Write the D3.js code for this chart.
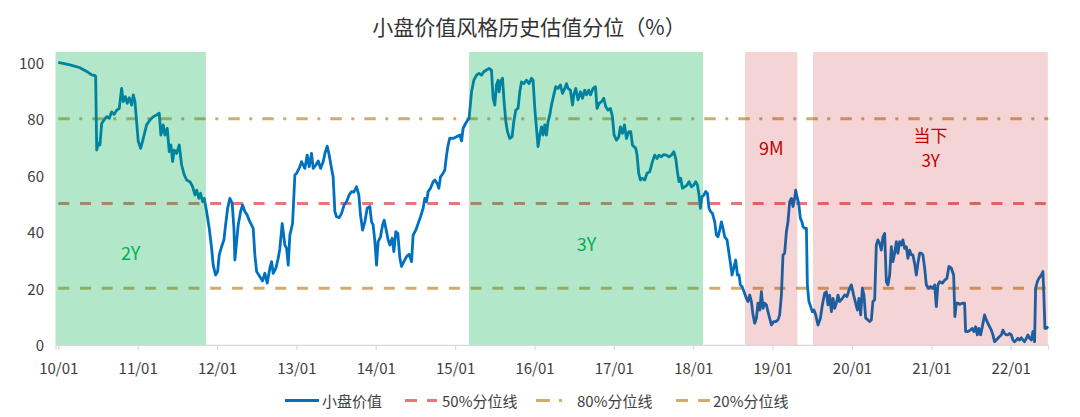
<!DOCTYPE html>
<html><head><meta charset="utf-8">
<script src="https://cdn.jsdelivr.net/npm/d3@7"></script>
<style>
body{margin:0;background:#fff;}
svg{display:block;font-family:"Noto Sans CJK SC","Noto Sans",sans-serif;}
</style>
</head><body><svg id="c" width="1080" height="417"></svg>
<script>
const chartTitle = "小盘价值风格历史估值分位（%）";
const seriesName = "小盘价值";
// [years since Jan 2010, valuation percentile %]
const smallValueSeries = [
[0.000,99.9],[0.147,99.0],[0.273,98.0],[0.358,96.7],[0.421,95.5],[0.462,95.2],[0.471,95.0],[0.484,68.9],[0.504,71.3],[0.525,70.7],[0.547,78.3],[0.576,79.5],[0.610,80.7],[0.642,80.1],[0.673,82.4],[0.702,81.5],[0.736,83.0],[0.768,83.6],[0.798,90.7],[0.819,86.0],[0.844,87.8],[0.869,85.4],[0.894,87.4],[0.924,84.8],[0.945,88.4],[0.966,86.0],[0.987,78.9],[1.008,71.9],[1.038,69.5],[1.071,73.0],[1.113,77.8],[1.155,79.5],[1.196,80.7],[1.239,81.3],[1.272,81.9],[1.293,74.2],[1.322,77.8],[1.344,74.2],[1.373,76.6],[1.398,68.3],[1.419,70.7],[1.441,64.8],[1.461,68.9],[1.491,67.7],[1.524,70.7],[1.554,63.6],[1.587,60.1],[1.617,58.3],[1.659,57.7],[1.693,55.9],[1.722,53.0],[1.743,54.7],[1.772,51.8],[1.793,53.6],[1.819,50.6],[1.839,51.8],[1.869,47.1],[1.902,41.2],[1.932,34.1],[1.952,28.2],[1.982,24.7],[2.008,25.9],[2.028,31.8],[2.058,34.7],[2.087,37.1],[2.108,42.4],[2.134,48.3],[2.162,51.8],[2.191,50.0],[2.213,41.2],[2.225,30.0],[2.247,36.5],[2.267,42.4],[2.297,47.1],[2.322,49.5],[2.351,47.1],[2.380,45.9],[2.406,44.0],
[2.456,41.2],[2.477,31.8],[2.499,25.9],[2.540,24.1],[2.574,22.6],[2.603,25.3],[2.632,21.8],[2.666,27.1],[2.688,29.4],[2.708,25.3],[2.742,27.1],[2.771,30.6],[2.792,34.1],[2.821,42.9],[2.855,35.3],[2.877,34.1],[2.897,28.2],[2.918,38.8],[2.952,42.9],[2.981,60.1],[3.003,60.7],[3.023,61.8],[3.044,63.0],[3.065,64.8],[3.086,63.6],[3.107,62.4],[3.136,67.1],[3.161,63.0],[3.191,67.7],[3.212,62.4],[3.246,63.6],[3.275,65.0],[3.305,62.4],[3.338,64.8],[3.359,67.7],[3.388,70.3],[3.413,67.1],[3.443,62.4],[3.463,59.4],[3.485,47.1],[3.506,45.3],[3.539,45.0],[3.569,46.5],[3.602,49.5],[3.632,50.6],[3.665,53.0],[3.695,54.2],[3.724,54.0],[3.758,55.9],[3.787,53.0],[3.808,45.9],[3.834,40.6],[3.863,43.5],[3.892,48.3],[3.926,48.9],[3.947,43.5],[3.967,42.4],[3.989,36.5],[4.010,28.2],[4.030,36.5],[4.060,38.2],[4.086,42.4],[4.106,44.1],[4.136,40.0],[4.156,37.1],[4.178,35.3],[4.207,37.7],[4.228,33.0],[4.253,40.0],[4.278,39.4],[4.304,30.6],[4.325,27.7],[4.354,29.4],[4.388,31.2],[4.421,32.0],[4.451,29.4],[4.471,38.8],[4.505,40.6],[4.534,42.9],[4.564,45.3],[4.597,48.3],[4.618,51.8],[4.640,50.6],[4.660,54.2],[4.690,55.4],[4.723,57.7],[4.744,58.3],[4.773,57.1],[4.795,55.4],[4.816,59.4],[4.849,60.7],[4.870,61.8],[4.892,67.1],[4.912,70.7],[4.933,73.1],
[4.975,73.0],[5.018,73.6],[5.059,74.2],[5.081,72.1],[5.101,76.6],[5.144,78.9],[5.176,80.1],[5.207,89.5],[5.236,93.6],[5.270,95.4],[5.302,96.0],[5.332,95.4],[5.361,96.6],[5.395,97.2],[5.428,97.8],[5.458,97.2],[5.479,87.2],[5.500,84.8],[5.521,91.9],[5.542,93.6],[5.554,89.5],[5.572,93.0],[5.597,94.3],[5.617,86.0],[5.639,78.9],[5.660,75.4],[5.689,73.0],[5.718,73.6],[5.739,78.9],[5.764,83.0],[5.793,83.6],[5.815,89.5],[5.836,93.0],[5.865,92.4],[5.899,93.6],[5.932,92.4],[5.962,94.3],[5.982,93.6],[6.004,83.6],[6.025,76.6],[6.045,70.1],[6.067,74.2],[6.088,77.1],[6.108,74.2],[6.130,77.8],[6.151,74.2],[6.171,78.9],[6.193,81.3],[6.214,84.8],[6.243,88.4],[6.268,91.3],[6.297,90.7],[6.327,91.9],[6.353,88.9],[6.382,90.7],[6.403,92.4],[6.423,90.7],[6.453,90.1],[6.479,84.8],[6.495,88.4],[6.520,90.7],[6.549,86.6],[6.579,89.5],[6.605,87.2],[6.633,90.1],[6.655,88.4],[6.684,90.1],[6.705,88.4],[6.738,90.7],[6.768,91.3],[6.788,83.6],[6.814,85.4],[6.844,86.0],[6.873,87.2],[6.898,84.2],[6.927,83.0],[6.957,83.6],[6.982,80.7],[7.003,74.2],[7.033,72.4],[7.062,73.6],[7.083,77.1],[7.108,74.8],[7.134,77.8],[7.159,73.0],[7.188,75.4],[7.213,75.4],[7.234,70.7],[7.254,70.1],[7.276,69.5],[7.292,67.1],[7.313,60.7],[7.335,58.3],[7.360,58.9],[7.389,58.3],[7.418,60.7],[7.452,61.2],
[7.486,64.8],[7.515,67.1],[7.544,65.9],[7.569,67.1],[7.599,66.5],[7.628,67.3],[7.662,67.1],[7.695,66.5],[7.725,67.1],[7.754,68.3],[7.780,65.9],[7.801,61.2],[7.821,57.7],[7.843,58.9],[7.864,55.4],[7.893,55.9],[7.922,56.5],[7.947,57.7],[7.977,55.9],[8.006,56.5],[8.031,57.7],[8.053,56.5],[8.073,53.0],[8.091,48.3],[8.111,52.4],[8.136,53.0],[8.157,54.2],[8.179,53.6],[8.199,48.3],[8.220,47.1],[8.242,46.5],[8.271,43.5],[8.292,38.8],[8.312,38.2],[8.334,40.6],[8.355,43.5],[8.375,41.2],[8.397,38.2],[8.426,37.1],[8.447,33.0],[8.469,28.8],[8.489,24.7],[8.510,27.1],[8.535,30.0],[8.557,24.7],[8.577,24.7],[8.594,21.2],[8.615,20.6],[8.640,18.8],[8.670,16.4],[8.690,15.3],[8.712,17.6],[8.733,15.3],[8.753,10.6],[8.775,7.6],[8.796,9.4],[8.816,14.7],[8.838,12.3],[8.859,18.8],[8.879,12.9],[8.901,14.7],[8.922,14.1],[8.942,11.7],[8.963,9.4],[8.985,7.0],[9.014,8.2],[9.039,8.2],[9.068,8.8],[9.089,10.6],[9.111,17.6],[9.131,31.8],[9.152,32.4],[9.174,40.0],[9.194,43.5],[9.215,50.6],[9.237,51.8],[9.257,48.9],[9.278,51.8],[9.291,54.7],[9.307,52.4],[9.329,50.0],[9.350,44.7],[9.370,43.5],[9.383,41.8],[9.404,41.2],[9.426,41.2],[9.438,21.2],[9.458,15.3],[9.480,13.5],[9.501,11.7],[9.521,12.3],[9.543,10.6],[9.572,7.0],[9.602,9.4],[9.627,14.1],[9.656,18.2],[9.677,18.8],[9.698,14.1],[9.719,17.6],[9.741,11.7],[9.761,16.4],[9.782,12.9],[9.803,14.7],[9.824,17.6],[9.845,15.3],[9.879,16.4],[9.908,17.6],[9.937,17.1],[9.971,20.0],
[9.992,21.2],[10.021,17.6],[10.047,14.7],[10.068,12.3],[10.088,16.4],[10.110,10.6],[10.131,20.0],[10.151,17.6],[10.173,9.4],[10.202,8.8],[10.223,8.2],[10.244,8.8],[10.264,15.3],[10.286,15.9],[10.307,35.3],[10.327,37.1],[10.349,35.9],[10.370,33.5],[10.390,38.2],[10.412,39.4],[10.433,22.3],[10.453,21.2],[10.475,24.7],[10.496,34.7],[10.516,29.4],[10.538,32.4],[10.559,36.5],[10.579,32.4],[10.601,36.5],[10.622,35.3],[10.642,37.1],[10.664,34.1],[10.685,34.7],[10.705,30.6],[10.727,33.5],[10.748,31.8],[10.768,31.8],[10.789,28.8],[10.811,24.7],[10.831,28.8],[10.853,32.4],[10.874,32.4],[10.894,31.8],[10.916,27.1],[10.937,21.2],[10.966,20.0],[10.991,20.6],[11.020,20.0],[11.042,21.2],[11.063,13.5],[11.083,21.2],[11.105,22.3],[11.139,21.8],[11.168,22.9],[11.196,23.5],[11.222,27.7],[11.252,27.1],[11.281,24.7],[11.297,10.0],[11.315,14.7],[11.335,14.7],[11.356,14.3],[11.390,14.7],[11.419,14.7],[11.432,4.7],[11.461,4.7],[11.491,5.2],[11.516,5.8],[11.536,4.7],[11.558,6.4],[11.579,3.5],[11.599,5.8],[11.621,3.5],[11.642,6.4],[11.671,10.6],[11.693,8.8],[11.713,7.6],[11.734,6.4],[11.756,5.2],[11.776,3.5],[11.797,1.1],[11.819,1.7],[11.839,2.3],[11.860,2.9],[11.882,3.5],[11.902,5.2],[11.923,4.0],[11.945,3.5],[11.965,3.5],[11.986,4.0],[12.008,3.5],[12.028,1.7],[12.049,1.1],[12.071,1.7],[12.091,2.3],[12.112,1.7],[12.134,2.5],[12.154,1.7],[12.175,1.1],[12.197,2.3],[12.217,3.5],[12.238,2.3],[12.260,1.7],[12.280,4.7],[12.301,1.1],[12.314,20.0],[12.335,22.3],[12.355,23.5],[12.386,24.7],[12.406,25.9],[12.418,17.6],[12.431,5.8],[12.448,5.8],[12.474,6.4]
];
const xTickYears = [0,1,2,3,4,5,6,7,8,9,10,11,12];
const xTickLabels = ["10/01","11/01","12/01","13/01","14/01","15/01","16/01","17/01","18/01","19/01","20/01","21/01","22/01"];
const yTicks = [0,20,40,60,80,100];
const refLevels = [50,80,20];
const refNames = ["50%分位线","80%分位线","20%分位线"];
const shadeStart = [-0.035, 5.176, 8.652, 9.509];
const shadeEnd   = [1.860, 8.123, 9.312, 12.468];
const shadeKind  = ["green","green","red","red"];
const shadeTop = 103.6;
const noteText = ["2Y","3Y","9M","当下|3Y"];
const noteX    = [0.912, 6.655, 8.985, 10.991];
const noteY    = [32.9, 36.1, 70.1, 74.5];
const noteKind = ["green","green","red","red"];
const noteSize = [18, 18, 18, 17];

const colors = {series:"#0070C0", r50:"#E47878", r80:"#D3AB6C", r20:"#D3AB6C",
  greenFill:"rgba(0,176,80,0.30)", redFill:"rgba(192,0,0,0.17)", greenText:"#00B050", redText:"#C00000", text:"#404040"};
const refStyle = [
  {color:colors.r50, dash:"11,10.7"},
  {color:colors.r80, dash:"11.5,9.5,3,10"},
  {color:colors.r20, dash:"11,10.7"}
];

const svg = d3.select("#c");
const x = d3.scaleLinear().domain([-0.035, 12.47]).range([55.5, 1048]);
const y = d3.scaleLinear().domain([0, 100]).range([344.8, 62.1]);

// title
svg.append("text").attr("x",529).attr("y",26).attr("text-anchor","middle")
  .attr("dominant-baseline","central").attr("font-size",21).attr("fill","#333")
  .text(chartTitle);

// y tick labels
svg.append("g").selectAll("text").data(yTicks).join("text")
  .attr("x",44).attr("y",d=>y(d)).attr("text-anchor","end").attr("dominant-baseline","central")
  .attr("font-size",15).attr("fill",colors.text).text(d=>d);

// x axis
const xAxis = d3.axisBottom(x).tickValues(xTickYears).tickFormat((d,i)=>xTickLabels[i]).tickSizeOuter(0).tickSize(5);
const gx = svg.append("g").attr("transform",`translate(0,${y(0)})`).call(xAxis);
gx.select(".domain").attr("stroke","#d9d9d9").attr("stroke-width",1.2);
gx.selectAll(".tick line").attr("stroke","#d9d9d9").attr("stroke-width",1.2);
gx.selectAll(".tick text").attr("font-size",15).attr("fill",colors.text)
  .attr("font-family",'"Noto Sans CJK SC","Noto Sans",sans-serif')
  .attr("y",23).attr("dy",null).attr("dominant-baseline","central");

// reference lines
const xExt = d3.extent(smallValueSeries, d=>d[0]);
svg.append("g").selectAll("line").data(refLevels).join("line")
  .attr("x1",x(xExt[0])).attr("x2",x(xExt[1]))
  .attr("y1",d=>y(d)).attr("y2",d=>y(d))
  .attr("stroke",(d,i)=>refStyle[i].color).attr("stroke-width",3)
  .attr("stroke-dasharray",(d,i)=>refStyle[i].dash);

// series line
const line = d3.line().x(d=>x(d[0])).y(d=>y(d[1]));
svg.append("path").datum(smallValueSeries).attr("d",line)
  .attr("fill","none").attr("stroke",colors.series).attr("stroke-width",2.8)
  .attr("stroke-linejoin","round");

// shaded periods (overlay)
svg.append("g").selectAll("rect").data(shadeStart).join("rect")
  .attr("x",(d)=>x(d)).attr("width",(d,i)=>x(shadeEnd[i])-x(d))
  .attr("y",y(shadeTop)).attr("height",y(0)-y(shadeTop))
  .attr("fill",(d,i)=>shadeKind[i]==="green"?colors.greenFill:colors.redFill);

// notes
const notes = svg.append("g").selectAll("text").data(noteText).join("text")
  .attr("x",(d,i)=>x(noteX[i])).attr("y",(d,i)=>y(noteY[i]))
  .attr("text-anchor","middle").attr("dominant-baseline","central")
  .attr("font-size",(d,i)=>noteSize[i]).attr("fill",(d,i)=>noteKind[i]==="green"?colors.greenText:colors.redText);
notes.each(function(d,i){
  const parts = d.split("|");
  d3.select(this).selectAll("tspan").data(parts).join("tspan")
    .attr("x",x(noteX[i])).attr("dy",(p,j)=>j===0?0:25).text(p=>p);
});

// legend
const lg = svg.append("g").attr("transform","translate(0,400.5)");
const legendItems = [
  {name:seriesName, color:colors.series, dash:null, x0:285, x1:319, tx:322},
  {name:refNames[0], color:refStyle[0].color, dash:"12,10", x0:405, x1:437, tx:442},
  {name:refNames[1], color:refStyle[1].color, dash:"14,9,3,10", x0:536, x1:565, tx:577},
  {name:refNames[2], color:refStyle[2].color, dash:"12,10", x0:676, x1:710, tx:713}
];
legendItems.forEach(it=>{
  lg.append("line").attr("x1",it.x0).attr("x2",it.x1).attr("y1",0).attr("y2",0)
    .attr("stroke",it.color).attr("stroke-width",3).attr("stroke-dasharray",it.dash);
  lg.append("text").attr("x",it.tx).attr("y",0).attr("dominant-baseline","central")
    .attr("font-size",15).attr("fill",colors.text).text(it.name);
});
</script>
</body></html>
